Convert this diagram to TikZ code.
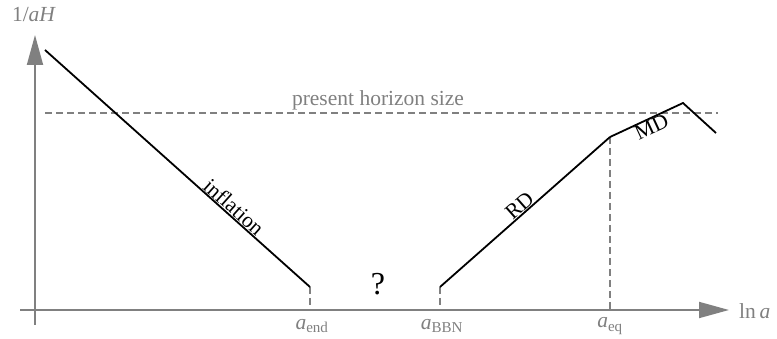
\documentclass[tikz,border=0pt]{standalone}
\usepackage{fontspec}
\setmainfont{Liberation Serif}
\usetikzlibrary{arrows.meta}
\definecolor{axisgrey}{HTML}{808080}
\begin{document}
\begin{tikzpicture}[x=1pt,y=-1pt,
  axis/.style={draw=axisgrey,line width=1.8pt,-{Triangle[length=30pt,width=16pt]}},
  curve/.style={draw=black,line width=1.8pt},
  guide/.style={draw=axisgrey,line width=1.4pt,dash pattern=on 7pt off 4pt},
  lbl/.style={font=\fontsize{21.5}{24}\selectfont,text=axisgrey,inner sep=1pt},
  seglbl/.style={font=\fontsize{21.5}{24}\selectfont,text=black,inner sep=0.5pt}]
\useasboundingbox (0,0) rectangle (777,339);
% axes
\coordinate (xs) at (20,310);
\coordinate (xe) at (729,310);
\coordinate (ys) at (35,325);
\coordinate (ye) at (35,35);
\draw[axis] (xs) -- (xe);
\draw[axis] (ys) -- (ye);
\node[lbl,anchor=west] (xl) at (738,311) {ln\,\textit{a}};
\node[lbl] (yl) at (34,15) {1/\textit{aH}};
% key points
\coordinate (p0) at (45,50);
\coordinate (pend) at (310,287);
\coordinate (pbbn) at (440,287);
\coordinate (peq) at (610,137);
\coordinate (pmax) at (683,103);
\coordinate (pfin) at (716,133);
\coordinate (tend) at (310,310);
\coordinate (tbbn) at (440,310);
\coordinate (teq) at (610,310);
% horizon
\coordinate (h0) at (45,113);
\coordinate (h1) at (718,113);
\draw[guide] (h0) -- (h1);
\node[lbl] (hl) at (378,100) {present horizon size};
% guides
\draw[guide] (pend) -- (tend);
\draw[guide] (pbbn) -- (tbbn);
\draw[guide] (peq) -- (teq);
% curves
\draw[curve] (p0) -- node[seglbl,sloped,above,pos=0.69] (il) {inflation} (pend);
\draw[curve] (pbbn) -- node[seglbl,sloped,above,pos=0.5] (rl) {RD} (peq);
\draw[curve] (peq) -- node[seglbl,sloped,below,pos=0.52] (ml) {MD} (pmax) -- (pfin);
% tick labels
\node[lbl] (le) at (312,326) {\textit{a}\textsubscript{end}};
\node[lbl] (lb) at (442,326) {\textit{a}\textsubscript{BBN}};
\node[lbl] (lq) at (610,326) {\textit{a}\textsubscript{eq}};
\node[seglbl,font=\fontsize{32}{34}\selectfont] (q) at (378,284) {?};
\end{tikzpicture}
\end{document}
